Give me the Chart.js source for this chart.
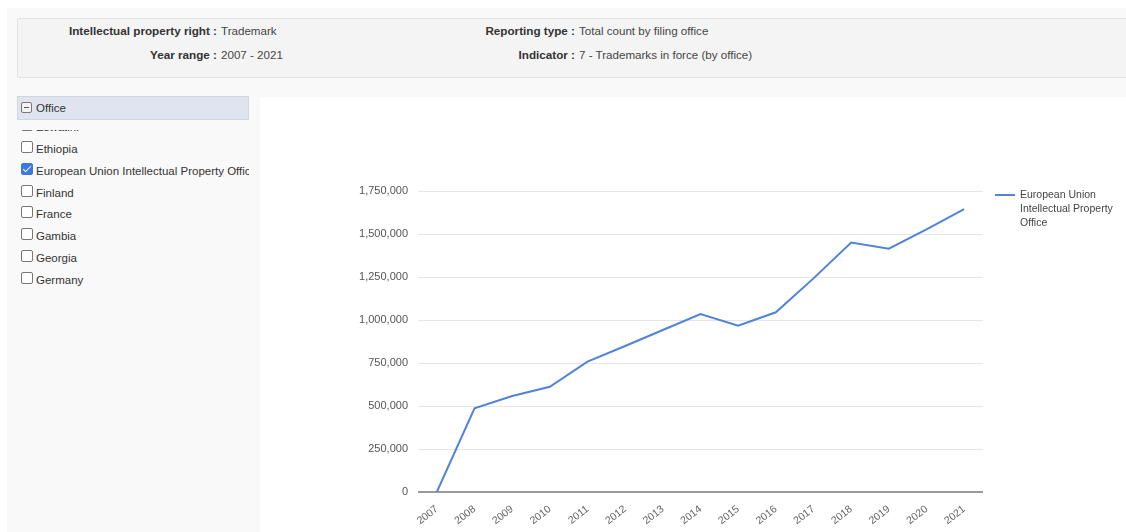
<!DOCTYPE html>
<html>
<head>
<meta charset="utf-8">
<script src="https://cdn.jsdelivr.net/npm/chart.js@4.4.1/dist/chart.umd.min.js"></script>
<style>
  html, body { margin: 0; padding: 0; }
  body {
    width: 1126px; height: 532px; overflow: hidden; position: relative;
    background: #fff; font-family: "Liberation Sans", Arial, sans-serif; color: #333;
  }
  .outer { position: absolute; left: 7px; top: 8px; right: 0; bottom: 0; background: #f9f9f9; }
  .topbox {
    position: absolute; left: 17px; top: 18px; width: 1120px; height: 58px;
    background: #f4f4f4; border: 1px solid #e2e2e2; border-radius: 2px;
  }
  .lbl { position: absolute; font-size: 11.7px; font-weight: bold; color: #333; text-align: right; white-space: nowrap; }
  .val { position: absolute; font-size: 11.6px; color: #444; white-space: nowrap; }
  .chartbox { position: absolute; left: 260px; top: 97px; width: 866px; height: 435px; background: #fff; }
  .office-head {
    position: absolute; left: 17px; top: 96px; width: 230px; height: 22px;
    background: #dfe4ee; border: 1px solid #cfd6e3; font-size: 11.5px; line-height: 22px; color: #333;
  }
  .office-head .minus {
    position: absolute; left: 3px; top: 5px; width: 9px; height: 9px;
    border: 1px solid #777; border-radius: 2px; background: #f2f2f2;
  }
  .office-head .minus:after {
    content: ""; position: absolute; left: 2px; top: 4px; width: 5px; height: 1px; background: #555;
  }
  .office-head span.t { position: absolute; left: 18px; }
  .list { position: absolute; left: 17px; top: 130px; width: 232px; height: 170px; overflow: hidden; }
  .item { position: absolute; left: 0; width: 400px; height: 18px; font-size: 11.5px; line-height: 18px; white-space: nowrap; color: #333; }
  .box {
    position: absolute; left: 4px; top: 1px; width: 10px; height: 10px;
    border: 1px solid #777; border-radius: 2px; background: #fff;
  }
  .box.on { background: #3b78e0; border-color: #3b78e0; }
  .box.on:after {
    content: ""; position: absolute; left: 3px; top: 0px; width: 3px; height: 7px;
    border: solid #fff; border-width: 0 1.5px 1.5px 0; transform: rotate(45deg);
  }
  .item .t { position: absolute; left: 19px; }
  canvas { position: absolute; left: 0; top: 0; }
</style>
</head>
<body>
<div class="outer"></div>
<div class="topbox"></div>
<div class="lbl" style="right:909px; top:24px;">Intellectual property right :</div>
<div class="val" style="left:221px; top:24px;">Trademark</div>
<div class="lbl" style="right:909px; top:48px;">Year range :</div>
<div class="val" style="left:221px; top:48px;">2007 - 2021</div>
<div class="lbl" style="right:551px; top:24px;">Reporting type :</div>
<div class="val" style="left:579px; top:24px;">Total count by filing office</div>
<div class="lbl" style="right:551px; top:48px;">Indicator :</div>
<div class="val" style="left:579px; top:48px;">7 - Trademarks in force (by office)</div>

<div class="office-head"><div class="minus"></div><span class="t">Office</span></div>
<div class="list" id="officeList"></div>

<div class="chartbox"><canvas id="rateChart" width="866" height="435"></canvas></div>

<script>
// ===== データ =====
const years = ["2007", "2008", "2009", "2010", "2011", "2012", "2013", "2014",
  "2015", "2016", "2017", "2018", "2019", "2020", "2021"];
const trademarksInForce = [0, 487000, 558000, 612000, 758000, 849000, 942000, 1035000,
  967000, 1045000, 1242000, 1450000, 1415000, 1527000, 1645000];
const seriesLabel = "European Union Intellectual Property Office";
const offices = ["Eswatini", "Ethiopia", "European Union Intellectual Property Office",
  "Finland", "France", "Gambia", "Georgia", "Germany"];
const checkedOffice = "European Union Intellectual Property Office";

const lineColor = "#5083d9";
const fontFamily = "'Liberation Sans', Arial, sans-serif";

// ===== サイドバー =====
const list = document.getElementById("officeList");
list.innerHTML = offices
  .map((name, i) => `
    <div class="item" style="top:${Math.round(i * 21.8 - 11.8)}px">
      <div class="box ${name === checkedOffice ? "on" : ""}"></div>
      <span class="t">${name}</span>
    </div>`)
  .join("");

// ===== 凡例 (右側, 折り返し) =====
const sideLegend = {
  id: "sideLegend",
  afterDraw(chart) {
    const { ctx, chartArea } = chart;
    const ds = chart.data.datasets[0];
    const x = chartArea.right + 12;
    const y = chartArea.top + 4;
    ctx.save();
    ctx.strokeStyle = ds.borderColor;
    ctx.lineWidth = 2;
    ctx.beginPath();
    ctx.moveTo(x, y);
    ctx.lineTo(x + 20, y);
    ctx.stroke();

    ctx.font = "10.5px " + fontFamily;
    ctx.fillStyle = "#444";
    ctx.textBaseline = "middle";
    const words = ds.label.split(" ");
    const lines = [];
    let cur = "";
    words.forEach(w => {
      const test = cur ? cur + " " + w : w;
      if (ctx.measureText(test).width > 100 && cur) {
        lines.push(cur);
        cur = w;
      } else {
        cur = test;
      }
    });
    if (cur) lines.push(cur);
    lines.forEach((l, i) => ctx.fillText(l, x + 25, y + i * 14));
    ctx.restore();
  }
};

// ===== グラフ =====
const ctx = document.getElementById("rateChart").getContext("2d");
new Chart(ctx, {
  type: "line",
  data: {
    labels: years,
    datasets: [{
      label: seriesLabel,
      data: trademarksInForce,
      borderColor: lineColor,
      borderWidth: 2,
      pointRadius: 0,
      tension: 0,
      fill: false
    }]
  },
  options: {
    responsive: false,
    animation: false,
    layout: { padding: { left: 0, top: 94, right: 143, bottom: 0 } },
    plugins: {
      legend: { display: false },
      tooltip: { enabled: false }
    },
    scales: {
      x: {
        offset: true,
        grid: { display: false },
        border: { display: false },
        ticks: {
          autoSkip: false,
          maxRotation: 38,
          minRotation: 38,
          padding: 3,
          color: "#666",
          font: { size: 10.5, family: fontFamily }
        },
        afterFit(scale) { scale.height = 40; }
      },
      y: {
        min: 0,
        max: 1750000,
        border: { display: false },
        grid: {
          drawTicks: false,
          color: c => (c.tick && c.tick.value === 0 ? "#9a9a9a" : "#e6e6e6"),
          lineWidth: c => (c.tick && c.tick.value === 0 ? 2 : 1)
        },
        ticks: {
          stepSize: 250000,
          padding: 10,
          color: "#555",
          font: { size: 11, family: fontFamily },
          callback: v => v.toLocaleString("en-US")
        },
        afterFit(scale) { scale.width = 158; }
      }
    }
  },
  plugins: [sideLegend]
});
</script>
</body>
</html>
